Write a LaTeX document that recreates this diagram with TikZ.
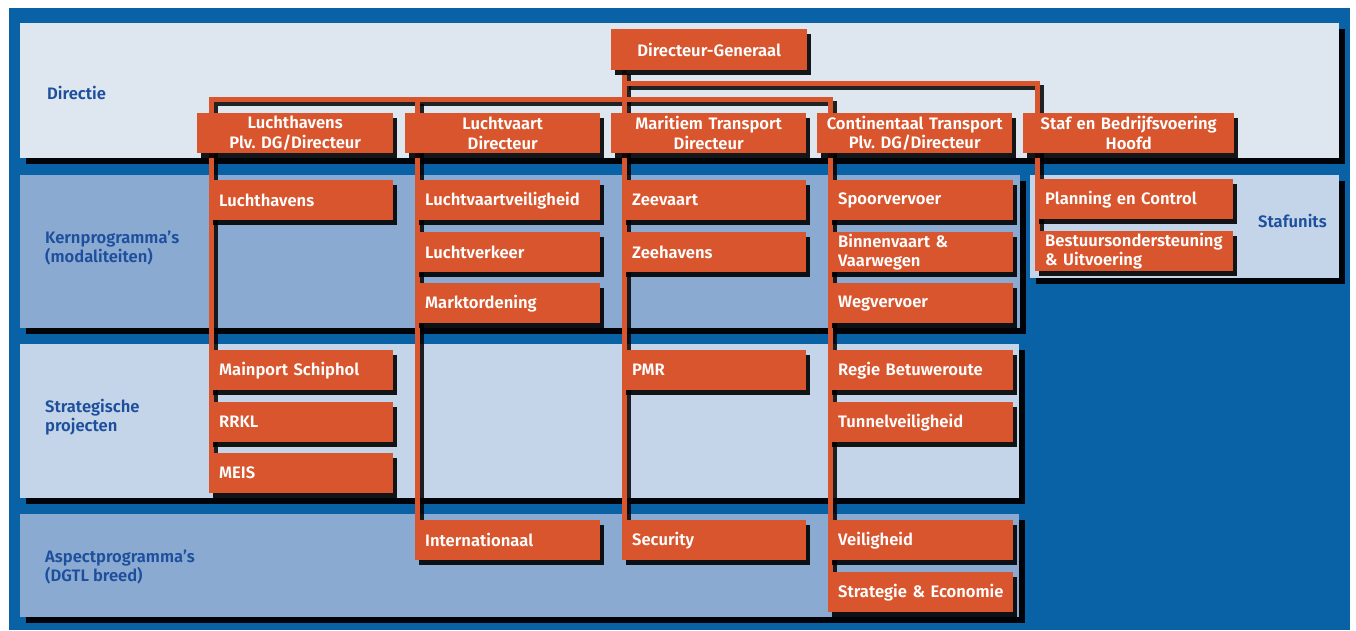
\documentclass[tikz,border=0pt]{standalone}
\usepackage{fontspec}
\setmainfont{Fira Sans}[BoldFont={Fira Sans SemiBold}]
\usetikzlibrary{shadows}
\frenchspacing

\definecolor{bgblue}{HTML}{0A62A6}
\definecolor{orng}{HTML}{D8552E}
\definecolor{lbltxt}{HTML}{1D4F9C}
\definecolor{bandpale}{HTML}{DEE7F0}
\definecolor{bandmid}{HTML}{8AAAD2}
\definecolor{bandlight}{HTML}{C4D5E9}

\pgfdeclarelayer{backdrop}
\pgfdeclarelayer{bands}
\pgfdeclarelayer{wires}
\pgfsetlayers{backdrop,bands,wires,main}

\tikzset{
  unit/.style={fill=orng, text=white,
    font=\fontsize{16.6}{19.5}\selectfont\bfseries,
    minimum height=40pt, inner ysep=0pt, anchor=north west,
    drop shadow={shadow xshift=4pt, shadow yshift=-5pt, fill=black, opacity=.9}},
  head/.style={unit, inner xsep=2pt, align=center, text width=#1},
  kid/.style={unit, inner xsep=10pt, align=left, text width=#1},
  band/.style={drop shadow={shadow xshift=6pt, shadow yshift=-6pt, fill=black, opacity=.95}},
  rowlabel/.style={text=lbltxt, font=\fontsize{16.6}{19.5}\selectfont\bfseries,
    align=left, anchor=west, inner sep=0pt},
  wire/.style={draw=orng, line width=5pt, line join=miter},
  wireshade/.style={draw=black, opacity=.85, line width=5pt, line join=miter,
    transform canvas={shift={(4pt,-4pt)}}}
}

% all connector paths of the chart, drawn once as shadow and once as line
\newcommand\wirepaths[1]{%
  \draw[#1] ([xshift=2.5pt]meis.north west)
    -- ([xshift=2.5pt]meis.north west |- busLow)
    -- ([xshift=2.5pt]streco.north west |- busLow)
    -- ([xshift=2.5pt]streco.north west);
  \draw[#1] ([xshift=2.5pt]intl.north west |- busLow)
    -- ([xshift=2.5pt]intl.north west);
  \draw[#1] ([xshift=2.5pt]bestuur.north west)
    -- ([xshift=2.5pt]bestuur.north west |- busHigh)
    -- ([xshift=2.5pt]sec.north west |- busHigh);
  \draw[#1] ([xshift=2.5pt]sec.north west |- dg.south)
    -- ([xshift=2.5pt]sec.north west);
}

\begin{document}
\begin{tikzpicture}[x=1pt,y=-1pt]
\useasboundingbox (0,0) rectangle (1356,630);
\begin{pgfonlayer}{backdrop}
  \fill[white] (0,0) rectangle (1356,630);
  \fill[bgblue] (9,8) rectangle (1350,630);
\end{pgfonlayer}

\coordinate (busHigh) at (0,83.5);
\coordinate (busLow) at (0,99.5);

% horizontal bands
\begin{pgfonlayer}{bands}
  \fill[bandpale, band] (20,23) rectangle (1339,158);
  \fill[bandmid, band] (20,175) rectangle (1020,328);
  \fill[bandlight, band] (20,344) rectangle (1019,498);
  \fill[bandmid, band] (20,514) rectangle (1019,617);
  \fill[bandlight, band] (1030,175) rectangle (1339,278);
\end{pgfonlayer}

\node[rowlabel] (lDir) at (47,93) {Directie};
\node[rowlabel] (lKern) at (45,248) {Kernprogramma's\\(modaliteiten)};
\node[rowlabel] (lStrat) at (45,417) {Strategische\\projecten};
\node[rowlabel] (lAsp) at (45,567) {Aspectprogramma's\\(DGTL breed)};
\node[rowlabel] (lStaf) at (1258,221) {Stafunits};

% top of the chart
\node[head=192pt, minimum height=41pt] (dg) at (611,29) {Directeur-Generaal};

\node[head=192pt] (lh) at (197,113) {Luchthavens\\Plv. DG/Directeur};
\node[head=191pt] (lv) at (405,113) {Luchtvaart\\Directeur};
\node[head=191pt] (mt) at (611,113) {Maritiem Transport\\Directeur};
\node[head=191pt] (ct) at (817,113) {Continentaal~Transport\\Plv. DG/Directeur};
\node[head=207pt] (sb) at (1023,113) {Staf~en~Bedrijfsvoering\\Hoofd};

% Luchthavens
\node[kid=164pt] (lhk) at (209,180) {Luchthavens};
\node[kid=164pt] (mps) at (209,350) {Mainport Schiphol};
\node[kid=164pt] (rrkl) at (209,402) {RRKL};
\node[kid=164pt] (meis) at (209,453) {MEIS};

% Luchtvaart
\node[kid=165pt] (lvv) at (415,180) {Luchtvaartveiligheid};
\node[kid=165pt] (lvk) at (415,232) {Luchtverkeer};
\node[kid=165pt] (mko) at (415,283) {Marktordening};
\node[kid=165pt] (intl) at (415,520) {Internationaal};

% Maritiem Transport
\node[kid=164pt] (zv) at (622,180) {Zeevaart};
\node[kid=164pt] (zh) at (622,232) {Zeehavens};
\node[kid=164pt] (pmr) at (622,350) {PMR};
\node[kid=164pt] (sec) at (622,520) {Security};

% Continentaal Transport
\node[kid=165pt] (spv) at (828,180) {Spoorvervoer};
\node[kid=165pt] (bvw) at (828,232) {Binnenvaart \&\\Vaarwegen};
\node[kid=165pt] (wgv) at (828,283) {Wegvervoer};
\node[kid=165pt] (rbr) at (828,350) {Regie Betuweroute};
\node[kid=165pt] (tnv) at (828,402) {Tunnelveiligheid};
\node[kid=165pt] (vlh) at (828,520) {Veiligheid};
\node[kid=165pt] (streco) at (828,572) {Strategie~\&~Economie};

% Staf en Bedrijfsvoering
\node[kid=178pt] (pc) at (1035,179) {Planning en Control};
\node[kid=178pt] (bestuur) at (1035,231) {Bestuursondersteuning\\\& Uitvoering};

\begin{pgfonlayer}{wires}
  \wirepaths{wireshade}
  \wirepaths{wire}
\end{pgfonlayer}
\end{tikzpicture}
\end{document}
